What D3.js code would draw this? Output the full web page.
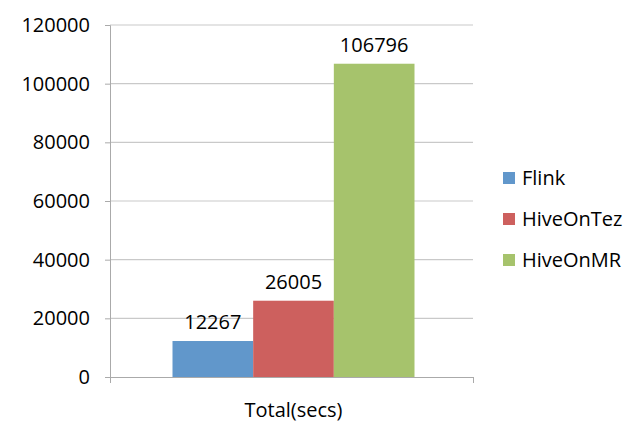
<!DOCTYPE html>
<html><head><meta charset="utf-8">
<script src="https://cdn.jsdelivr.net/npm/d3@7"></script>
<style>body{margin:0;background:#fff;}text{font-family:"Open Sans",sans-serif;fill:#000;}</style>
</head><body>
<svg id="c" width="643" height="437"></svg>
<script>
const categories = ["Total(secs)"];
const seriesNames = ["Flink", "HiveOnTez", "HiveOnMR"];
const seriesValues = [12267, 26005, 106796];
const seriesColors = ["#6197CB", "#CD605E", "#A6C36C"];
const yTicks = [0, 20000, 40000, 60000, 80000, 100000, 120000];

(function () {
const svg = d3.select("#c");
const pL = 110, pR = 473, pT = 25, pB = 377;
const y = d3.scaleLinear().domain([0, 120000]).range([pB, pT]);
const x0 = d3.scaleBand().domain(categories).range([pL + 2, pR + 2]).paddingInner(0).paddingOuter(0.25);
const x1 = d3.scaleBand().domain(seriesNames).range([0, x0.bandwidth()]).padding(0);

// gridlines
svg.append("g").selectAll("line").data(yTicks.filter(d => d > 0)).join("line")
  .attr("x1", pL).attr("x2", pR).attr("y1", d => y(d)).attr("y2", d => y(d))
  .attr("stroke", "#c9c9c9").attr("stroke-width", 1.2);

// y axis
const ya = svg.append("g").attr("transform", `translate(${pL},0)`)
  .call(d3.axisLeft(y).tickValues(yTicks).tickSize(5).tickPadding(15).tickFormat(d3.format("d")));
ya.select(".domain").attr("stroke", "#aaa");
ya.selectAll(".tick line").attr("stroke", "#aaa");
ya.selectAll("text").attr("font-size", 20).attr("font-family", "Open Sans").attr("fill", "#000");

// x axis
const xa = svg.append("g").attr("transform", `translate(0,${pB})`)
  .call(d3.axisBottom(d3.scaleLinear().domain([0,1]).range([pL, pR])).tickValues([0,1]).tickSize(6).tickFormat(""));
xa.select(".domain").attr("stroke", "#aaa");
xa.selectAll(".tick line").attr("stroke", "#aaa");

// bars
const g = svg.append("g").attr("transform", `translate(${x0(categories[0])},0)`);
g.selectAll("rect").data(seriesValues).join("rect")
  .attr("x", (d, i) => x1(seriesNames[i]))
  .attr("width", x1.bandwidth())
  .attr("y", d => y(d)).attr("height", d => pB - y(d))
  .attr("fill", (d, i) => seriesColors[i]);
g.selectAll("text.lbl").data(seriesValues).join("text").attr("class", "lbl")
  .attr("x", (d, i) => x1(seriesNames[i]) + x1.bandwidth() / 2)
  .attr("y", d => y(d) - 12)
  .attr("text-anchor", "middle").attr("font-size", 20)
  .text(d => d);

// x category label
svg.append("text").attr("x", x0(categories[0]) + x0.bandwidth() / 2).attr("y", 417)
  .attr("text-anchor", "middle").attr("font-size", 20).text(categories[0]);

// legend
const lg = svg.append("g").attr("transform", "translate(503,172)");
const li = lg.selectAll("g").data(seriesNames).join("g").attr("transform", (d, i) => `translate(0,${i * 41})`);
li.append("rect").attr("width", 12).attr("height", 12).attr("fill", (d, i) => seriesColors[i]);
li.append("text").attr("x", 19).attr("y", 13).attr("font-size", 20).text(d => d);
})();
</script>
</body></html>
